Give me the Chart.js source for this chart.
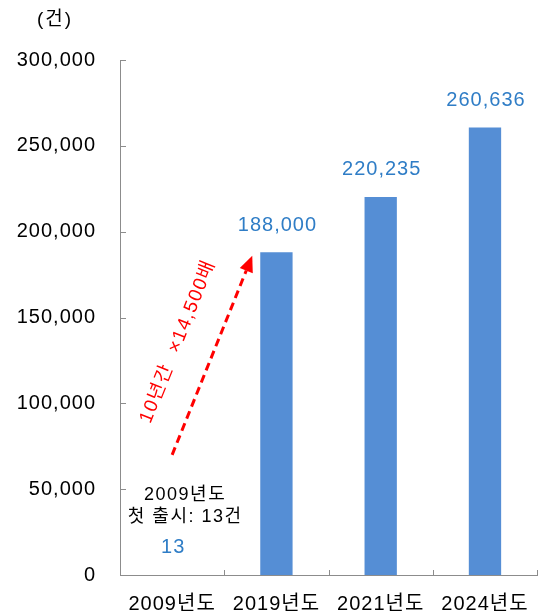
<!DOCTYPE html>
<html>
<head>
<meta charset="utf-8">
<script src="https://cdn.jsdelivr.net/npm/chart.js@4"></script>
<style>
  html, body { margin: 0; padding: 0; background: #fff; }
  #wrap { position: relative; width: 543px; height: 611px; }
</style>
</head>
<body>
<div id="wrap"><canvas id="chart" width="543" height="611"></canvas></div>
<script>
const years = ['2009년도', '2019년도', '2021년도', '2024년도'];
const counts = [13, 188000, 220235, 260636];
const yTicks = [0, 50000, 100000, 150000, 200000, 250000, 300000];
const firstNote = ['2009년도', '첫 출시: 13건'];
const growthNote = '10년간  ×14,500배';
const arrowFrom = 70000;   // value at the arrow tail (2009 column)
const arrowTo = 186000;    // value at the arrow head (2019 column)

const FONT = '"Liberation Sans", "Noto Sans CJK KR", sans-serif';
const AXIS = '#8c8c8c';

// wider letter spacing for every text on the canvas
const spacing = {
    id: 'spacing',
    beforeDraw(chart) { chart.ctx.letterSpacing = '1px'; }
};

// inward tick marks, value labels, unit and the red growth arrow
const extras = {
    id: 'extras',
    afterDatasetsDraw(chart) {
        const { ctx, chartArea: a, scales: { x, y } } = chart;
        ctx.save();

        ctx.strokeStyle = AXIS;
        ctx.lineWidth = 1;
        ctx.beginPath();
        yTicks.forEach(v => {
            const py = Math.round(y.getPixelForValue(v)) + 0.5;
            ctx.moveTo(a.left, py);
            ctx.lineTo(a.left + 6, py);
        });
        const step = x.getPixelForValue(1) - x.getPixelForValue(0);
        for (let i = 0; i <= years.length; i++) {
            const px = Math.round(x.getPixelForValue(0) - step / 2 + i * step) + 0.5;
            ctx.moveTo(px, a.bottom);
            ctx.lineTo(px, a.bottom - 5);
        }
        ctx.stroke();

        // values above the bars
        ctx.letterSpacing = '1px';
        ctx.fillStyle = '#2f7dc6';
        ctx.font = '20px ' + FONT;
        ctx.textAlign = 'center';
        ctx.textBaseline = 'middle';
        const meta = chart.getDatasetMeta(0);
        meta.data.forEach((bar, i) => {
            ctx.fillText(counts[i].toLocaleString('en-US'), bar.x + 1, bar.y - 27);
        });

        // unit
        ctx.fillStyle = '#000';
        ctx.font = '19px ' + FONT;
        ctx.letterSpacing = '2px';
        ctx.fillText('(건)', 55, 20);

        // note over the first column
        ctx.font = '18px ' + FONT;
        ctx.letterSpacing = '1.5px';
        const nx = x.getPixelForValue(0) + 13;
        ctx.fillText(firstNote[0], nx, y.getPixelForValue(46600));
        ctx.fillText(firstNote[1], nx, y.getPixelForValue(33800));

        // dashed arrow
        const x0 = x.getPixelForValue(0), y0 = y.getPixelForValue(arrowFrom);
        const x1 = meta.data[1].x - meta.data[1].width / 2 - 8, y1 = y.getPixelForValue(arrowTo);
        const ang = Math.atan2(y1 - y0, x1 - x0);
        const head = 16;
        const bx = x1 - head * Math.cos(ang), by = y1 - head * Math.sin(ang);
        ctx.strokeStyle = '#ff0000';
        ctx.fillStyle = '#ff0000';
        ctx.lineWidth = 3;
        ctx.setLineDash([8, 5]);
        ctx.beginPath();
        ctx.moveTo(x0, y0);
        ctx.lineTo(bx, by);
        ctx.stroke();
        ctx.setLineDash([]);
        ctx.beginPath();
        ctx.moveTo(x1, y1);
        ctx.lineTo(bx + 7 * Math.sin(ang), by - 7 * Math.cos(ang));
        ctx.lineTo(bx - 7 * Math.sin(ang), by + 7 * Math.cos(ang));
        ctx.closePath();
        ctx.fill();

        // rotated growth label, left of the arrow
        ctx.translate((x0 + x1) / 2, (y0 + y1) / 2);
        ctx.rotate(ang);
        ctx.font = '19px ' + FONT;
        ctx.letterSpacing = '1.5px';
        ctx.fillText(growthNote, 0, -37);

        ctx.restore();
    }
};

const ctx = document.getElementById('chart').getContext('2d');
new Chart(ctx, {
    type: 'bar',
    data: {
        labels: years,
        datasets: [{
            data: counts,
            backgroundColor: '#558ed5',
            borderWidth: 0,
            categoryPercentage: 1,
            barPercentage: 0.31
        }]
    },
    options: {
        responsive: false,
        animation: false,
        layout: { padding: { top: 60, right: 3 } },
        plugins: {
            legend: { display: false },
            tooltip: { enabled: false }
        },
        scales: {
            x: {
                grid: { display: false, drawTicks: false },
                border: { color: AXIS },
                ticks: { color: '#000', font: { family: FONT, size: 20 }, padding: 17 },
                afterFit: s => { s.height = 36; }
            },
            y: {
                min: 0,
                max: 300000,
                grid: { display: false, drawTicks: false },
                border: { color: AXIS },
                afterBuildTicks: s => { s.ticks = yTicks.map(v => ({ value: v })); },
                ticks: {
                    color: '#000',
                    font: { family: FONT, size: 20 },
                    padding: 24,
                    callback: v => v.toLocaleString('en-US')
                },
                afterFit: s => { s.width = 120; }
            }
        }
    },
    plugins: [spacing, extras]
});
</script>
</body>
</html>
